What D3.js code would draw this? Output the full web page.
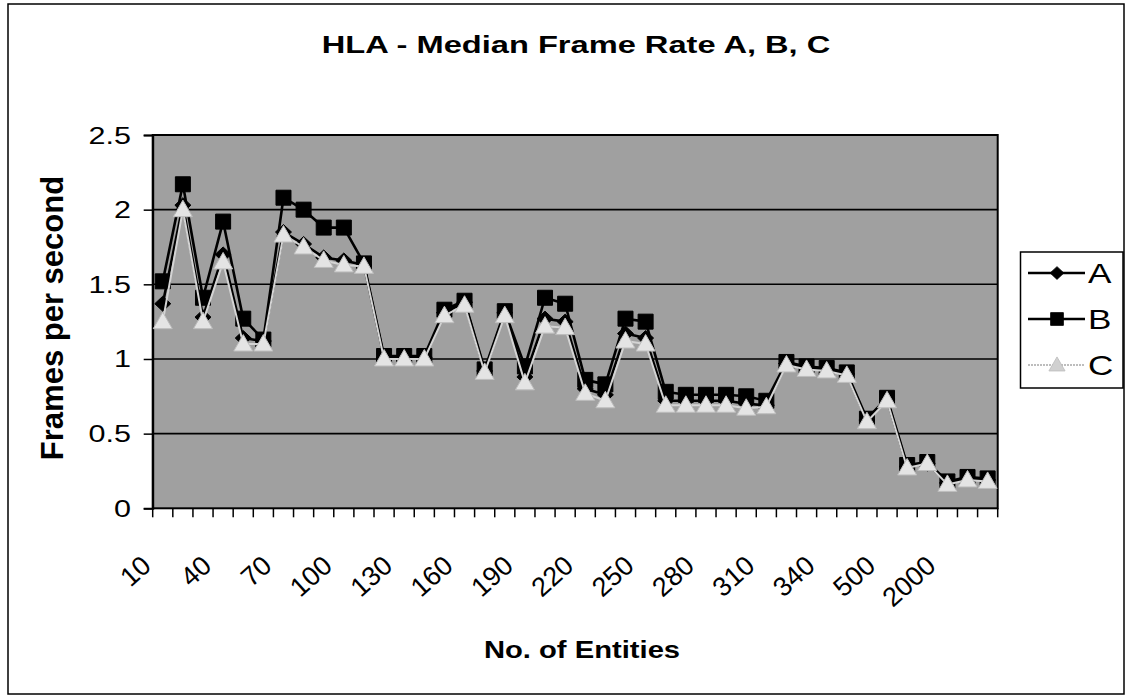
<!DOCTYPE html>
<html>
<head>
<meta charset="utf-8">
<script src="https://cdn.jsdelivr.net/npm/d3@7"></script>
<style>
  html, body { margin: 0; padding: 0; background: #fff; }
  svg { display: block; font-family: "Liberation Sans", Arial, sans-serif; }
</style>
</head>
<body>
<div id="chart-container"></div>
<script>
// chart data
const categories = [10, 20, 30, 40, 50, 60, 70, 80, 90, 100, 110, 120, 130, 140, 150, 160, 170,
  180, 190, 200, 210, 220, 230, 240, 250, 260, 270, 280, 290, 300, 310, 320, 330, 340,
  350, 400, 500, 1000, 1500, 2000, 2500, 3000];

const seriesA = [1.37, 2.03, 1.28, 1.70, 1.14, 1.12, 1.85, 1.77, 1.68, 1.66, 1.63, 1.01, 1.01, 1.01,
  1.31, 1.38, 0.92, 1.31, 0.88, 1.27, 1.25, 0.80, 0.76, 1.17, 1.14, 0.72, 0.72, 0.72, 0.72, 0.70,
  0.69, 0.97, 0.94, 0.93, 0.90, 0.59, 0.73, 0.28, 0.30, 0.17, 0.20, 0.19];

const seriesB = [1.52, 2.17, 1.41, 1.92, 1.27, 1.13, 2.08, 2.00, 1.88, 1.88, 1.64, 1.02, 1.02, 1.02,
  1.33, 1.39, 0.93, 1.32, 0.95, 1.41, 1.37, 0.86, 0.83, 1.27, 1.25, 0.78, 0.76, 0.76, 0.76, 0.75,
  0.72, 0.98, 0.95, 0.94, 0.91, 0.60, 0.74, 0.29, 0.31, 0.18, 0.21, 0.20];

const seriesC = [1.25, 2.00, 1.25, 1.65, 1.10, 1.10, 1.83, 1.75, 1.66, 1.63, 1.62, 1.00, 1.00, 1.00,
  1.29, 1.36, 0.91, 1.29, 0.84, 1.22, 1.21, 0.77, 0.72, 1.12, 1.10, 0.69, 0.69, 0.69, 0.69, 0.67,
  0.68, 0.96, 0.93, 0.92, 0.89, 0.58, 0.72, 0.27, 0.30, 0.16, 0.19, 0.18];

const seriesNames = ["A", "B", "C"];
const yTicks = [0, 0.5, 1, 1.5, 2, 2.5];
const labelEvery = 3;

// dimensions
const width = 1125;
const height = 696;
const plot = { left: 152.7, right: 997.7, top: 135, bottom: 508.3 };

// scales
const x = d3.scaleBand().domain(categories).range([plot.left, plot.right]);
const y = d3.scaleLinear().domain([0, 2.5]).range([plot.bottom, plot.top]);
const cx = (d) => x(d) + x.bandwidth() / 2;

const styles = {
  A: { line: "#000", width: 2.6, fill: "#000", stroke: "#000", shape: "diamond" },
  B: { line: "#000", width: 2.6, fill: "#000", stroke: "#000", shape: "square" },
  C: { line: "#d4d4d4", width: 2, fill: "#e4e4e4", stroke: "#bdbdbd", shape: "triangle" },
};

function shapePath(shape) {
  if (shape === "diamond") return "M0,-7.5L8,0L0,7.5L-8,0Z";
  if (shape === "square") return "M-7.5,-7.5H7.5V7.5H-7.5Z";
  return "M0,-9.5L9.5,7H-9.5Z";
}

const svg = d3
  .select("#chart-container")
  .append("svg")
  .attr("width", width)
  .attr("height", height)
  .attr("viewBox", [0, 0, width, height]);

// outer chart border
svg
  .append("rect")
  .attr("x", 8)
  .attr("y", 4)
  .attr("width", 1116)
  .attr("height", 690)
  .attr("fill", "#fff")
  .attr("stroke", "#000")
  .attr("stroke-width", 1.5);

// plot area
svg
  .append("rect")
  .attr("x", plot.left)
  .attr("y", plot.top)
  .attr("width", plot.right - plot.left)
  .attr("height", plot.bottom - plot.top)
  .attr("fill", "#a0a0a0");

// gridlines
svg
  .append("g")
  .selectAll("line")
  .data(yTicks.filter((d) => d > 0 && d < 2.5))
  .join("line")
  .attr("x1", plot.left)
  .attr("x2", plot.right)
  .attr("y1", (d) => y(d))
  .attr("y2", (d) => y(d))
  .attr("stroke", "#000")
  .attr("stroke-width", 1.6);

svg
  .append("rect")
  .attr("x", plot.left)
  .attr("y", plot.top)
  .attr("width", plot.right - plot.left)
  .attr("height", plot.bottom - plot.top)
  .attr("fill", "none")
  .attr("stroke", "#000")
  .attr("stroke-width", 2);

// y axis
const yAxis = svg
  .append("g")
  .attr("transform", `translate(${plot.left},0)`)
  .call(d3.axisLeft(y).tickValues(yTicks).tickSize(9).tickPadding(0).tickFormat(() => ""));
yAxis.select(".domain").attr("stroke-width", 2);
yAxis.selectAll(".tick line").attr("stroke-width", 1.5);

svg
  .append("g")
  .selectAll("text")
  .data(yTicks)
  .join("text")
  .attr("transform", (d) => `translate(131,${y(d) + 8.5}) scale(1.3,1)`)
  .attr("text-anchor", "end")
  .attr("font-size", 23.5)
  .text((d) => d);

// x axis: tick marks between categories
const xBounds = categories.map((c) => x(c)).concat([plot.right]);
svg
  .append("g")
  .selectAll("line")
  .data(xBounds)
  .join("line")
  .attr("x1", (d) => d)
  .attr("x2", (d) => d)
  .attr("y1", plot.bottom)
  .attr("y2", plot.bottom + 9)
  .attr("stroke", "#000")
  .attr("stroke-width", 1.5);

svg
  .append("g")
  .selectAll("text")
  .data(categories.filter((c, i) => i % labelEvery === 0))
  .join("text")
  .attr("transform", (d) => `translate(${cx(d) - 10},568) rotate(-42)`)
  .attr("text-anchor", "end")
  .attr("font-size", 27)
  .text((d) => d);

// series
const allSeries = [seriesA, seriesB, seriesC];
const line = d3
  .line()
  .x((d) => cx(d.cat))
  .y((d) => y(d.v));

seriesNames.forEach((name, k) => {
  const st = styles[name];
  const pts = categories.map((c, i) => ({ cat: c, v: allSeries[k][i] }));
  const g = svg.append("g").attr("class", "series-" + name);
  g.append("path")
    .attr("fill", "none")
    .attr("stroke", st.line)
    .attr("stroke-width", st.width)
    .attr("stroke-linejoin", "round")
    .attr("d", line(pts));
  g.selectAll("path.mark")
    .data(pts)
    .join("path")
    .attr("class", "mark")
    .attr("transform", (d) => `translate(${cx(d.cat)},${y(d.v)})`)
    .attr("d", shapePath(st.shape))
    .attr("fill", st.fill)
    .attr("stroke", st.stroke)
    .attr("stroke-width", 1);
});

// titles
svg
  .append("text")
  .attr("transform", `translate(576,53) scale(1.36,1)`)
  .attr("text-anchor", "middle")
  .attr("font-size", 24)
  .attr("font-weight", "bold")
  .text("HLA - Median Frame Rate A, B, C");

svg
  .append("text")
  .attr("transform", `translate(582,658) scale(1.27,1)`)
  .attr("text-anchor", "middle")
  .attr("font-size", 23)
  .attr("font-weight", "bold")
  .text("No. of Entities");

svg
  .append("text")
  .attr("transform", `translate(63,318) rotate(-90)`)
  .attr("text-anchor", "middle")
  .attr("font-size", 31)
  .attr("font-weight", "bold")
  .text("Frames per second");

// legend
const legend = svg.append("g").attr("class", "legend");
legend
  .append("rect")
  .attr("x", 1020.5)
  .attr("y", 252)
  .attr("width", 102.5)
  .attr("height", 136)
  .attr("fill", "#fff")
  .attr("stroke", "#000")
  .attr("stroke-width", 1.5);

const legendY = d3.scalePoint().domain(seriesNames).range([273, 365]);
seriesNames.forEach((name) => {
  const st = styles[name];
  const ly = legendY(name);
  legend
    .append("line")
    .attr("x1", 1028)
    .attr("x2", 1085)
    .attr("y1", ly)
    .attr("y2", ly)
    .attr("stroke", name === "C" ? "#a8a8a8" : st.line)
    .attr("stroke-width", name === "C" ? 1.5 : 2.5)
    .attr("stroke-dasharray", name === "C" ? "2,1" : null);
  legend
    .append("path")
    .attr("transform", `translate(1057,${ly}) scale(0.85)`)
    .attr("d", shapePath(st.shape))
    .attr("fill", name === "C" ? "#d0d0d0" : st.fill)
    .attr("stroke", st.stroke)
    .attr("stroke-width", 1);
  legend
    .append("text")
    .attr("transform", `translate(1088,${ly + 10}) scale(1.3,1)`)
    .attr("font-size", 27)
    .text(name);
});
</script>
</body>
</html>
